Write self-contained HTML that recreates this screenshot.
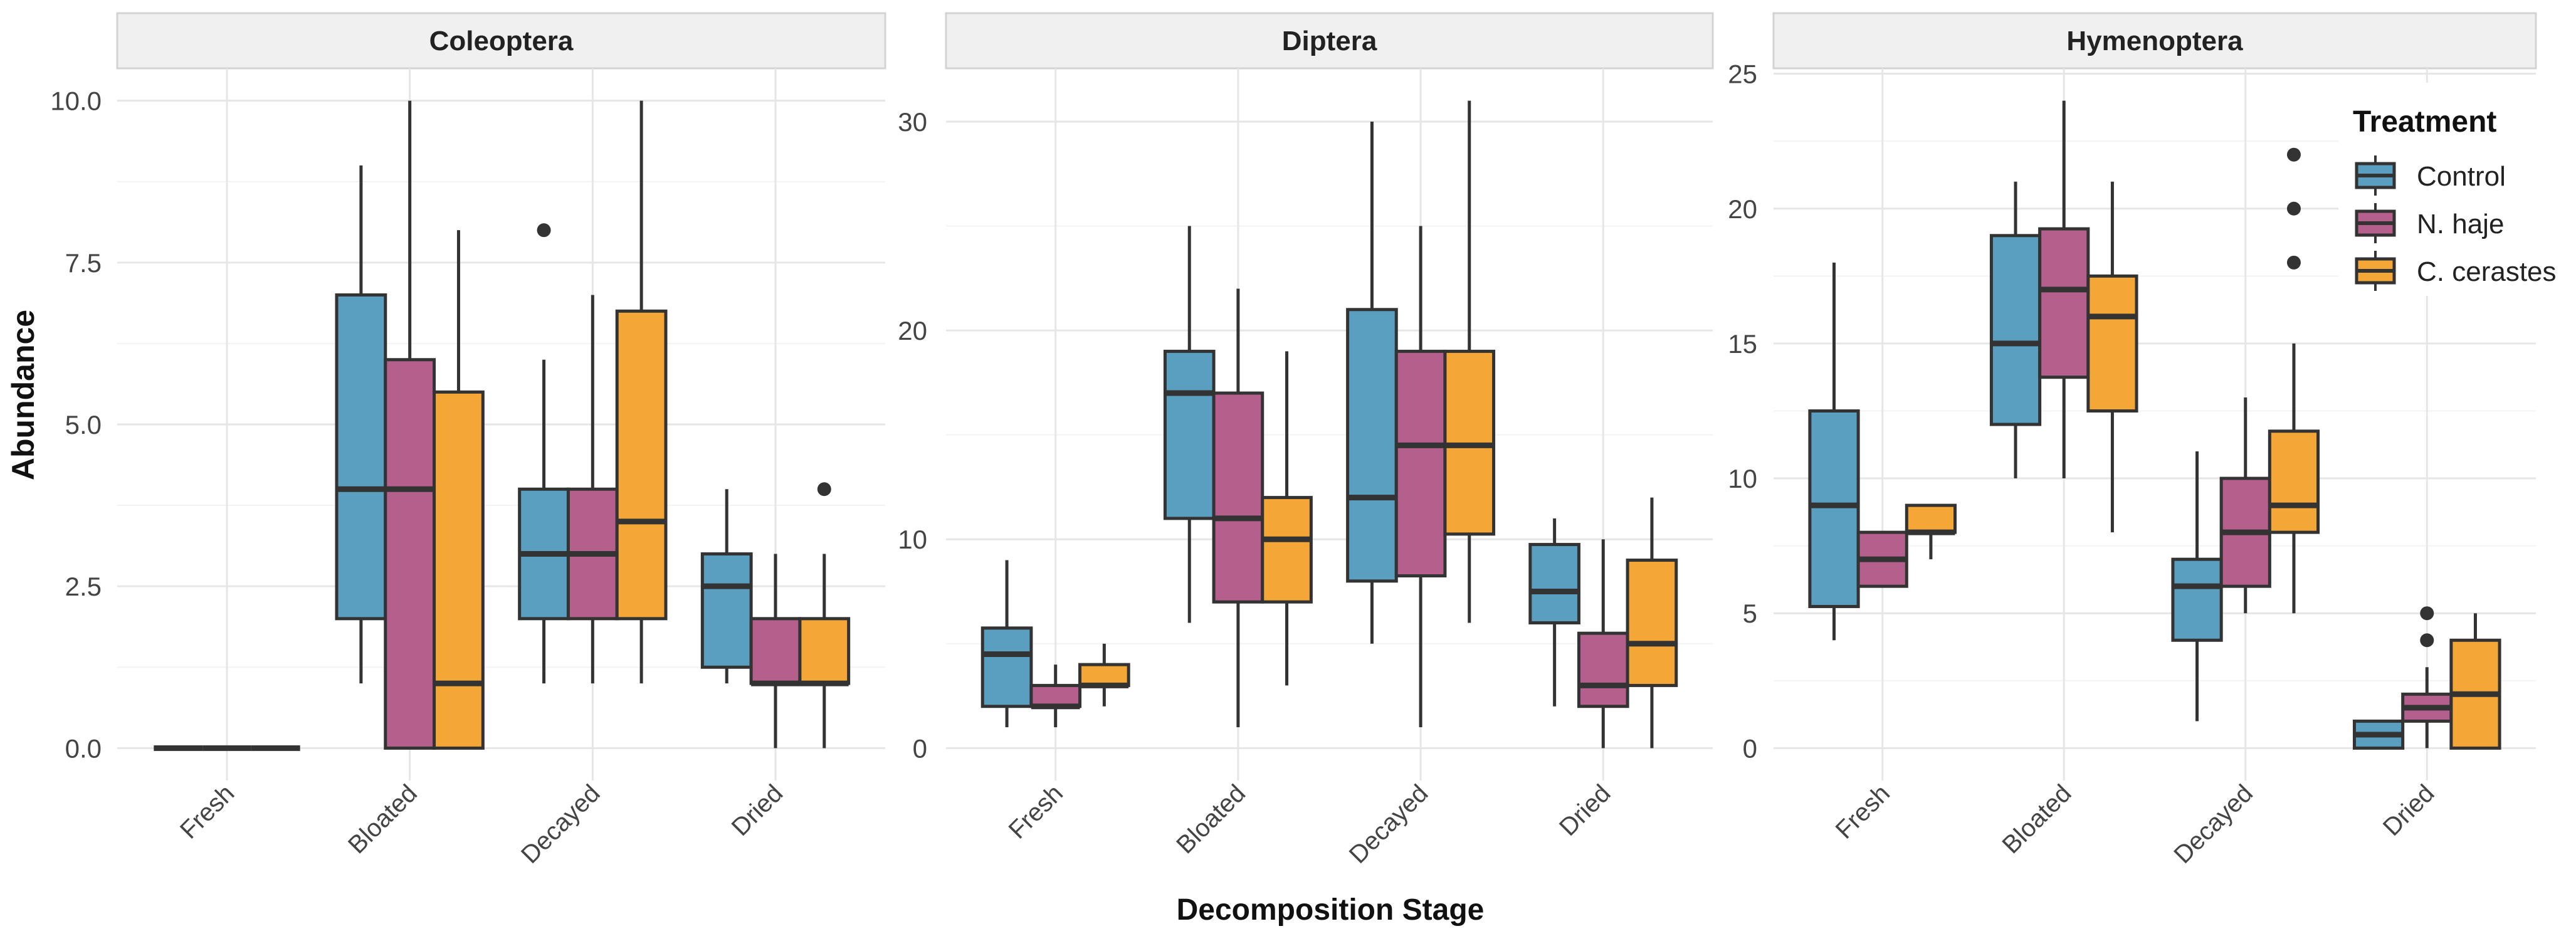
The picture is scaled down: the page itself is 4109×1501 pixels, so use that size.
<!DOCTYPE html>
<html><head><meta charset="utf-8"><style>
html,body{margin:0;padding:0;background:#fff}
svg{display:block;font-family:"Liberation Sans",Arial,sans-serif}
</style></head><body>
<svg id="chart" width="4109" height="1501" viewBox="0 0 4109 1501" xmlns="http://www.w3.org/2000/svg"></svg>
<script>
// ---- data ----
const stages = ["Fresh","Bloated","Decayed","Dried"];
const treatments = ["Control","N. haje","C. cerastes"];
const colors = ["#5a9fbf","#b5608c","#f4a636"];
const panelNames = ["Coleoptera","Diptera","Hymenoptera"];
// each box: [lowerWhisker, q1, median, q3, upperWhisker]
const coleopteraStats = [
  [[0,0,0,0,0],[0,0,0,0,0],[0,0,0,0,0]],
  [[1,2,4,7,9],[0,0,4,6,10],[0,0,1,5.5,8]],
  [[1,2,3,4,6],[1,2,3,4,7],[1,2,3.5,6.75,10]],
  [[1,1.25,2.5,3,4],[0,1,1,2,3],[0,1,1,2,3]]
];
const dipteraStats = [
  [[1,2,4.5,5.75,9],[1,2,2,3,4],[2,3,3,4,5]],
  [[6,11,17,19,25],[1,7,11,17,22],[3,7,10,12,19]],
  [[5,8,12,21,30],[1,8.25,14.5,19,25],[6,10.25,14.5,19,31]],
  [[2,6,7.5,9.75,11],[0,2,3,5.5,10],[0,3,5,9,12]]
];
const hymenopteraStats = [
  [[4,5.25,9,12.5,18],[6,6,7,8,8],[7,8,8,9,9]],
  [[10,12,15,19,21],[10,13.75,17,19.25,24],[8,12.5,16,17.5,21]],
  [[1,4,6,7,11],[5,6,8,10,13],[5,8,9,11.75,15]],
  [[0,0,0.5,1,1],[0,1,1.5,2,3],[0,0,2,4,5]]
];
// outliers: [stageIndex, treatmentIndex, value]
const coleopteraOutliers = [[2,0,8],[3,2,4]];
const dipteraOutliers = [];
const hymenopteraOutliers = [[2,2,18],[2,2,20],[2,2,22],[3,1,4],[3,1,5]];
const coleopteraTicks = [0,2.5,5,7.5,10];
const coleopteraTickLabels = ["0.0","2.5","5.0","7.5","10.0"];
const dipteraTicks = [0,10,20,30];
const hymenopteraTicks = [0,5,10,15,20,25];
const coleopteraDomain = [0,10];
const dipteraDomain = [0,31];
const hymenopteraDomain = [0,24];

const NS="http://www.w3.org/2000/svg";
const svg=document.getElementById('chart');
function el(tag,attrs,parent,text){const e=document.createElementNS(NS,tag);for(const k in attrs)e.setAttribute(k,attrs[k]);if(text!==undefined)e.textContent=text;(parent||svg).appendChild(e);return e;}

const panels=[
 {name:panelNames[0],x0:187,x1:1412,stats:coleopteraStats,out:coleopteraOutliers,ticks:coleopteraTicks,labels:coleopteraTickLabels,dom:coleopteraDomain,labelRight:162},
 {name:panelNames[1],x0:1509,x1:2732,stats:dipteraStats,out:dipteraOutliers,ticks:dipteraTicks,labels:dipteraTicks.map(String),dom:dipteraDomain,labelRight:1479},
 {name:panelNames[2],x0:2829,x1:4045,stats:hymenopteraStats,out:hymenopteraOutliers,ticks:hymenopteraTicks,labels:hymenopteraTicks.map(String),dom:hymenopteraDomain,labelRight:2803}
];
const PT=109,PB=1245;

panels.forEach((p,pi)=>{
  const g=el('g',{});
  
  
  const span=p.dom[1]-p.dom[0], ex=span*0.05;
  const lo=p.dom[0]-ex, hi=p.dom[1]+ex;
  const y=v=>PB-(v-lo)/(hi-lo)*(PB-PT);
  const unit=(p.x1-p.x0)/4.2;
  const xc=i=>p.x0+(0.6+i)*unit;
  const bw=unit*0.8/3;
  const s=el('rect',{x:p.x0,y:21,width:p.x1-p.x0,height:88,fill:'#f0f0f0',stroke:'#d3d3d3','stroke-width':3},g);
  
  
  const st=el('text',{x:(p.x0+p.x1)/2,y:80,'text-anchor':'middle','font-size':44,'font-weight':'bold',fill:'#222'},g,p.name);
  
  
  for(let i=0;i<p.ticks.length-1;i++){
    const m=(p.ticks[i]+p.ticks[i+1])/2;
    el('line',{x1:p.x0,x2:p.x1,y1:y(m),y2:y(m),stroke:'#f3f3f3','stroke-width':2},g);
  }
  p.ticks.forEach((t,i)=>{
    const gl=el('line',{x1:p.x0,x2:p.x1,y1:y(t),y2:y(t),stroke:'#e6e6e6','stroke-width':3},g);
    
    
    const tl=el('text',{x:p.labelRight,y:y(t)+15,'text-anchor':'end','font-size':42,fill:'#444'},g,p.labels[i]);
    
    
  });
  stages.forEach((sName,si)=>{
    el('line',{x1:xc(si),x2:xc(si),y1:PT,y2:PB,stroke:'#e6e6e6','stroke-width':3},g);
    const tx=xc(si)+14, ty=1268;
    const xl=el('text',{x:tx,y:ty,'text-anchor':'end','font-size':40,fill:'#444',transform:`rotate(-45 ${tx} ${ty})`},g,sName);
    
    
  });
  if(pi===2){
    const lb=el('rect',{x:3730,y:132,width:379,height:340,fill:'#fff'},g);
    
    
  }
  p.stats.forEach((grp,si)=>{
    grp.forEach((b,ti)=>{
      const cx=xc(si)+(ti-1)*bw;
      const bg=el('g',{},g);
      
      
      el('line',{x1:cx,x2:cx,y1:y(b[4]),y2:y(b[3]),stroke:'#333','stroke-width':5},bg);
      el('line',{x1:cx,x2:cx,y1:y(b[1]),y2:y(b[0]),stroke:'#333','stroke-width':5},bg);
      el('rect',{x:cx-bw/2,y:y(b[3]),width:bw,height:Math.max(0,y(b[1])-y(b[3])),fill:colors[ti],stroke:'#333','stroke-width':5},bg);
      el('line',{x1:cx-bw/2,x2:cx+bw/2,y1:y(b[2]),y2:y(b[2]),stroke:'#333','stroke-width':9},bg);
    });
  });
  p.out.forEach(o=>{
    const cx=xc(o[0])+(o[1]-1)*bw;
    const c=el('circle',{cx:cx,cy:y(o[2]),r:11,fill:'#333'},g);
    
    
  });
});

const yt=el('text',{x:54,y:630,'text-anchor':'middle','font-size':50,'font-weight':'bold',fill:'#111',transform:'rotate(-90 54 630)'},svg,'Abundance');


const xt=el('text',{x:2122,y:1467,'text-anchor':'middle','font-size':48,'font-weight':'bold',fill:'#111'},svg,'Decomposition Stage');



const lg=el('g',{});


const ltt=el('text',{x:3753,y:210,'font-size':48,'font-weight':'bold',fill:'#111'},lg,'Treatment');


const rowsY=[280,356,432];
treatments.forEach((t,i)=>{
  const e=el('g',{},lg);
  
  
  const cy=rowsY[i];
  el('line',{x1:3789,x2:3789,y1:cy-32,y2:cy+32,stroke:'#333','stroke-width':4},e);
  el('rect',{x:3759,y:cy-19,width:60,height:38,fill:colors[i],stroke:'#333','stroke-width':5},e);
  el('line',{x1:3759,x2:3819,y1:cy,y2:cy,stroke:'#333','stroke-width':6},e);
  el('text',{x:3855,y:cy+16,'font-size':44,fill:'#222'},e,t);
});
</script>
</body></html>
